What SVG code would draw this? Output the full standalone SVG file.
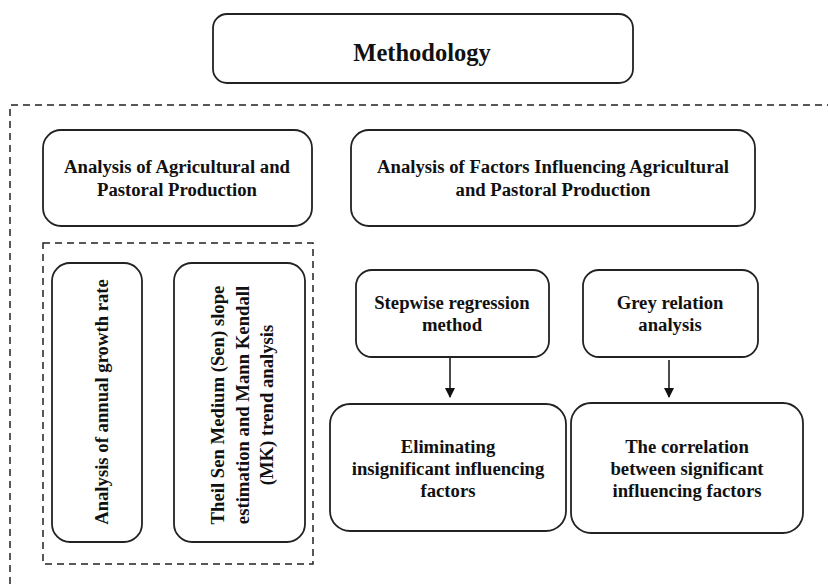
<svg xmlns="http://www.w3.org/2000/svg" width="828" height="584" viewBox="0 0 828 584">
<defs>
<style>
.box{fill:#fff;stroke:#222;stroke-width:1.8}
.dash{fill:none;stroke:#222;stroke-width:1.5;stroke-dasharray:7 5}
text{font-family:"Liberation Serif","Times New Roman",serif;font-weight:bold;font-size:18.7px;fill:#111;text-anchor:middle}
.conn{stroke:#111;stroke-width:1.5;fill:none}
</style>
<marker id="ah" viewBox="0 0 10 10" refX="9" refY="5" markerWidth="10" markerHeight="10" markerUnits="userSpaceOnUse" orient="auto">
<path d="M0,0 L10,5 L0,10 Z" fill="#111"/>
</marker>
</defs>
<rect width="828" height="584" fill="#fff"/>
<g id="frame">
<path class="dash" d="M10,584 L10,105 L828,105"/>
<rect class="dash" x="43" y="243" width="270" height="321"/>
</g>
<g id="methodology">
<rect class="box" x="213" y="14" width="420" height="69" rx="14"/>
<text x="422" y="61" style="font-size:24.5px">Methodology</text>
</g>
<g id="agri">
<rect class="box" x="43" y="130" width="269" height="96" rx="18"/>
<text x="177" y="173">Analysis of Agricultural and</text>
<text x="177" y="196">Pastoral Production</text>
</g>
<g id="factors">
<rect class="box" x="351" y="130" width="404" height="96" rx="18"/>
<text x="553" y="173">Analysis of Factors Influencing Agricultural</text>
<text x="553" y="196">and Pastoral Production</text>
</g>
<g id="growth">
<rect class="box" x="52" y="263" width="90" height="279" rx="18"/>
<text transform="translate(108,402) rotate(-90)">Analysis of annual growth rate</text>
</g>
<g id="sen">
<rect class="box" x="174" y="263" width="131" height="279" rx="18"/>
<text transform="translate(224,405) rotate(-90)">Theil Sen Medium (Sen) slope</text>
<text transform="translate(249,405) rotate(-90)">estimation and Mann Kendall</text>
<text transform="translate(273,405) rotate(-90)">(MK) trend analysis</text>
</g>
<g id="stepwise">
<rect class="box" x="356" y="270" width="193" height="87" rx="16"/>
<text x="452" y="309">Stepwise regression</text>
<text x="452" y="331">method</text>
</g>
<g id="grey">
<rect class="box" x="583" y="270" width="175" height="87" rx="16"/>
<text x="670" y="309">Grey relation</text>
<text x="670" y="331">analysis</text>
</g>
<g id="eliminating">
<rect class="box" x="330" y="404" width="236" height="127" rx="20"/>
<text x="448" y="453">Eliminating</text>
<text x="448" y="475">insignificant influencing</text>
<text x="448" y="497">factors</text>
</g>
<g id="correlation">
<rect class="box" x="571" y="403" width="232" height="130" rx="20"/>
<text x="687" y="453">The correlation</text>
<text x="687" y="475">between significant</text>
<text x="687" y="497">influencing factors</text>
</g>
<g id="connectors">
<line class="conn" x1="450" y1="358" x2="450" y2="397" marker-end="url(#ah)"/>
<line class="conn" x1="669" y1="360" x2="669" y2="397" marker-end="url(#ah)"/>
</g>
</svg>
